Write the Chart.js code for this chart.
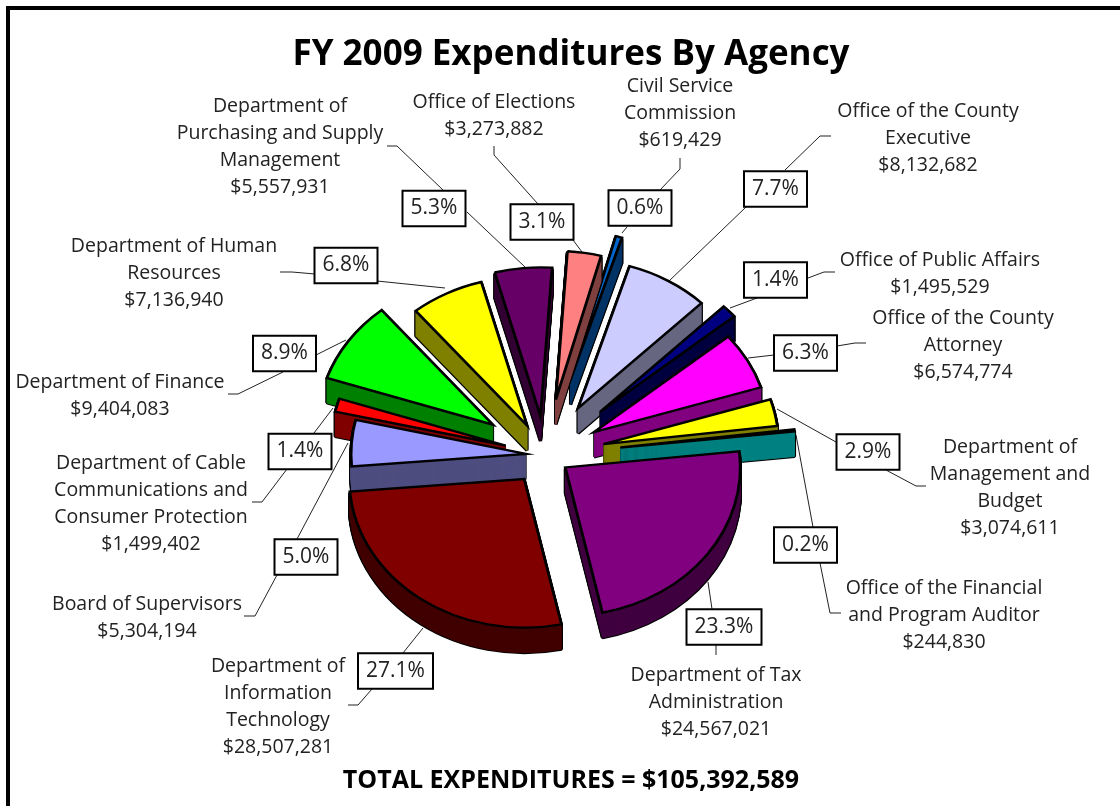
<!DOCTYPE html>
<html><head><meta charset="utf-8">
<style>html,body{margin:0;padding:0;background:#fff}canvas{display:block}</style>
<script src="https://cdn.jsdelivr.net/npm/chart.js@4"></script>
</head><body><div style="width:1120px;height:806px"><canvas id="c" width="1120" height="806"></canvas></div>
<script>
const categories = [
 "Civil Service\nCommission","Office of the County\nExecutive","Office of Public Affairs",
 "Office of the County\nAttorney","Department of\nManagement and\nBudget",
 "Office of the Financial\nand Program Auditor","Department of Tax\nAdministration",
 "Department of\nInformation\nTechnology","Board of Supervisors",
 "Department of Cable\nCommunications and\nConsumer Protection","Department of Finance",
 "Department of Human\nResources","Department of\nPurchasing and Supply\nManagement","Office of Elections"];
const values = [619429,8132682,1495529,6574774,3074611,244830,24567021,28507281,5304194,1499402,9404083,7136940,5557931,3273882];
const percents = ["0.6%","7.7%","1.4%","6.3%","2.9%","0.2%","23.3%","27.1%","5.0%","1.4%","8.9%","6.8%","5.3%","3.1%"];
const topColors = ["#0066CC","#CCCCFF","#000080","#FF00FF","#FFFF00","#00FFFF","#800080","#800000","#9999FF","#FF0000","#00FF00","#FFFF00","#660066","#FF8080"];
const wallColors = ["#003366","#666680","#000040","#800080","#808000","#008080","#400040","#400000","#4D4D80","#800000","#008000","#808000","#330033","#804040"];

// layout only
const explode = [92,64,75,56,60,76,25,35,19,41,63,39,46,66];
const zOrder = [0,13,12,1,11,2,3,4,5,10,9,8,7,6];
const CX=545, CY=455, SQUASH=0.85, DEPTH=25;
const labelPos = [[680,86],[928,111],[940,260],[963,318],[1010,447],[944,588],[716,675],[278,666],[147,604],[151,463],[120,382],[174,246],[280,106],[494,102]];
const boxPos = [[640,208],[775.5,189],[775.5,280],[805.5,353],[868,452],[805.5,545],[724,627],[395.5,671],[306,557],[300,451.5],[284.5,353.5],[346,265.5],[434,208.5],[542,222]];
const leaders = [
 [[[680,158],[680,169],[660,190]],[[627,227],[622,233]]],
 [[[831,136],[820,136],[785,170]],[[746,207],[668,282]]],
 [[[835,272],[824,272],[808,278]],[[757,298],[730,308]]],
 [[[866,343],[855,343],[837,346]],[[774,355],[748,358]]],
 [[[926,486],[916,486],[886,470]],[[836,442],[777,409]]],
 [[[796,435],[813,527]],[[820,563],[830,613],[841,613]]],
 [[[708,582],[712,609]],[[716,645],[716,655]]],
 [[[372,689],[358,705],[348,705]],[[403,653],[423,628]]],
 [[[297,539],[348,443]],[[277,575],[255,616],[244,616]]],
 [[[314,433],[333,408]],[[287,469],[262,502],[252,502]]],
 [[[228,394],[238,394],[283,372]],[[316,355],[346,340]]],
 [[[280,272],[292,272],[315,274]],[[377,281],[445,288]]],
 [[[387,146],[397,146],[443,190]],[[467,212],[525,267]]],
 [[[494,146],[494,155],[538,204]],[[573,240],[585,256]]]
];
const FONT = '"Open Sans"';
const LINE_H = 27.3;

const pie3d = {
 id:'pie3d',
 beforeDraw(chart){
  const c=chart.ctx; c.save(); c.fillStyle='#fff'; c.fillRect(0,0,1120,806);
  c.fillStyle='#000'; c.fillRect(6,6,1114,4); c.fillRect(6,6,4,800); c.restore();
 },
 beforeDatasetDraw(chart){
  const ctx=chart.ctx, arcs=chart.getDatasetMeta(0).data;
  ctx.save(); ctx.strokeStyle='#222'; ctx.lineWidth=1;
  leaders.forEach(ls=>ls.forEach(l=>{ctx.beginPath();l.forEach((p,k)=>k?ctx.lineTo(p[0],p[1]):ctx.moveTo(p[0],p[1]));ctx.stroke();}));
  ctx.restore();
  const place=(arc,i,dy)=>{
    const mid=(arc.startAngle+arc.endAngle)/2;
    ctx.translate(CX-arc.x, 0);
    ctx.translate(0,CY+dy); ctx.scale(1,SQUASH); ctx.translate(0,-arc.y);
    ctx.translate(Math.cos(mid)*explode[i],Math.sin(mid)*explode[i]);
  };
  const paint=(arc,i,dy,fill,stroke,width,join)=>{
    const saved=arc.options;
    arc.options=Object.assign({},saved,{backgroundColor:fill,borderColor:stroke,borderWidth:width,borderJoinStyle:join,borderAlign:'center'});
    ctx.save(); place(arc,i,dy); arc.draw(ctx); ctx.restore();
    arc.options=saved;
  };
  zOrder.forEach(i=>{
    const arc=arcs[i];
    for(let d=DEPTH;d>0;d--) paint(arc,i,d,'#000','#000',3.4,'bevel');
    for(let d=DEPTH;d>0;d--) paint(arc,i,d,wallColors[i],wallColors[i],1,'bevel');
    paint(arc,i,0,topColors[i],'#000',2.8,'miter');
  });
  return false;
 },
 afterDraw(chart){
  const c=chart.ctx; c.save();
  c.textAlign='center'; c.textBaseline='middle';
  c.font='21px '+FONT;
  percents.forEach((t,i)=>{
    const [x,y]=boxPos[i]; const w=t.length>4?75:63, h=35.5;
    c.fillStyle='#fff'; c.fillRect(x-w/2,y-h/2,w,h);
    c.lineWidth=2; c.strokeStyle='#000'; c.strokeRect(x-w/2,y-h/2,w,h);
    c.fillStyle='#222'; c.fillText(t,x,y);
  });
  c.font='19.5px '+FONT;
  categories.forEach((name,i)=>{
    const lines=name.split('\n').concat('$'+values[i].toLocaleString('en-US'));
    lines.forEach((l,k)=>{c.fillStyle='#222';c.fillText(l,labelPos[i][0],labelPos[i][1]+k*LINE_H);});
  });
  c.restore();
 }
};

new Chart(document.getElementById('c'),{
 type:'pie',
 data:{labels:categories,datasets:[{data:values,backgroundColor:topColors,borderColor:'#000',borderWidth:2.8,radius:175,clip:false}]},
 options:{
  responsive:false,animation:false,rotation:15,
  layout:{padding:{left:22,right:0,top:0,bottom:0}},
  plugins:{
   legend:{display:false},tooltip:{enabled:false},
   title:{display:true,fullSize:false,text:"FY 2009 Expenditures By Agency",color:'#000',font:{family:FONT,size:35,weight:'bold'},padding:{top:34,bottom:0}},
   subtitle:{display:true,position:'bottom',fullSize:false,text:"TOTAL EXPENDITURES = $105,392,589",color:'#000',font:{family:FONT,size:25,weight:'bold'},padding:{top:0,bottom:10}}
  }
 },
 plugins:[pie3d]
});
</script></body></html>
